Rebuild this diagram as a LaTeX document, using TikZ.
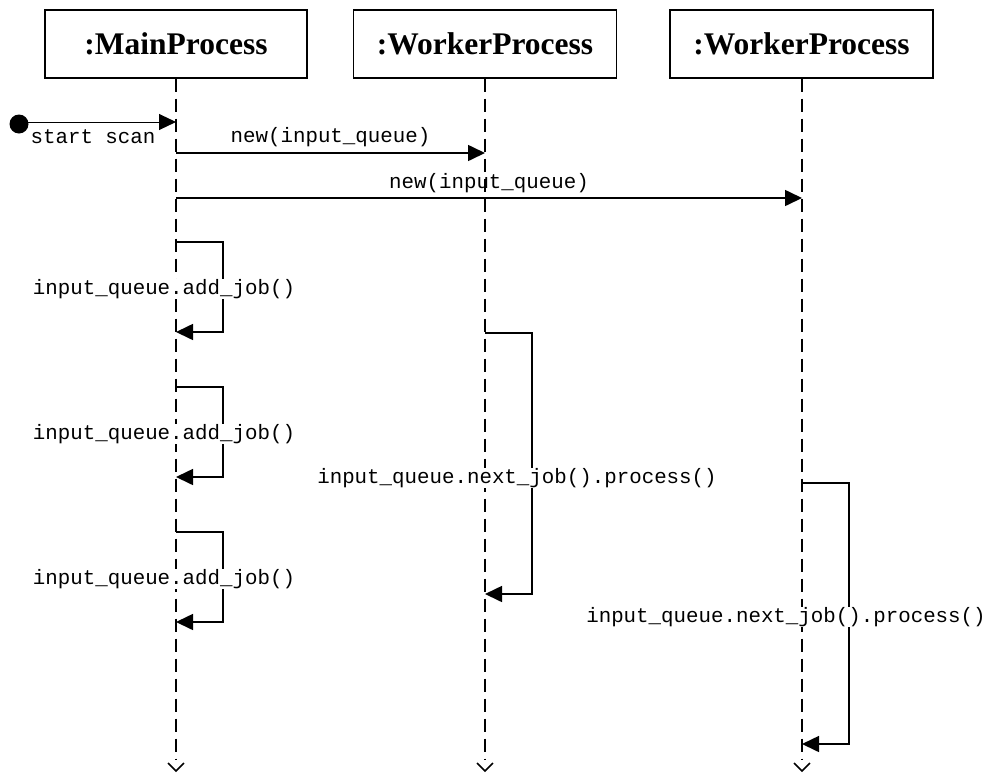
\documentclass[tikz,border=0pt]{standalone}
\usepackage{fontspec}
\setmainfont{Liberation Serif}
\newfontfamily\codefont{Liberation Mono}
\usetikzlibrary{arrows.meta}

\begin{document}
\begin{tikzpicture}[x=1pt,y=-1pt,
  objbox/.style={draw,line width=1.3pt,minimum width=#1,minimum height=68pt,inner sep=0pt,
    font=\fontsize{31.5}{36}\selectfont\bfseries},
  lifeline/.style={line width=1.6pt,dash pattern=on 13pt off 7pt},
  lifeend/.style={line width=1.6pt},
  msg/.style={line width=1.6pt,-{Triangle[length=17pt,width=16pt]}},
  lbl/.style={fill=white,inner sep=0.5pt,font=\codefont\fontsize{20.8}{24}\selectfont}]
\useasboundingbox (0,0) rectangle (987,774);

% objects
\node[objbox=262pt] (main) at (176,44) {:MainProcess};
\node[objbox=263pt] (w1)   at (485,44) {:WorkerProcess};
\node[objbox=263pt] (w2)   at (801.5,44) {:WorkerProcess};

% lifelines
\coordinate (mEnd) at (176,771);
\coordinate (aEnd) at (485,771);
\coordinate (bEnd) at (802,771);
\draw[lifeline] (main.south) -- (176,760);
\draw[lifeline] (w1.south) -- (485,760);
\draw[lifeline] (w2.south -| bEnd) -- (802,760);
\foreach \e in {mEnd,aEnd,bEnd}
  \draw[lifeend] ([shift={(-8,-8)}]\e) -- (\e) -- ([shift={(8,-8)}]\e);

% start of the scan
\fill (19,124) circle (9.5pt) coordinate (start);
\coordinate (mStart) at (176,122);
\draw[line width=1pt,-{Triangle[length=17pt,width=16pt]}] (start |- mStart) -- (mStart);
\node[lbl,fill=none] (lstart) at (93,137) {start scan};

% creating the workers
\coordinate (m1) at (176,153);
\coordinate (a1) at (485,153);
\draw[msg] (m1) -- (a1);
\node[lbl,fill=none] (lnew1) at (330.5,137) {new(input\_queue)};
\coordinate (m2) at (176,198);
\coordinate (b1) at (802,198);
\draw[msg] (m2) -- (b1);
\node[lbl,fill=none] (lnew2) at (489,183) {new(input\_queue)};

% jobs added by the main process
\foreach \t/\n in {242/1,387/2,532/3}{
  \coordinate (ja\n) at (176,\t);
  \coordinate (jb\n) at (176,\t+90);
  \draw[msg] (ja\n) -- (223,\t) -- (223,\t+90) -- (jb\n);
  \node[lbl] (ladd\n) at (164,\t+47) {input\_queue.add\_job()};
}

% workers processing jobs
\coordinate (pa1) at (485,333);
\coordinate (pa2) at (485,594);
\draw[msg] (pa1) -- (532,333) -- (532,594) -- (pa2);
\node[lbl] (lproc1) at (517,478) {input\_queue.next\_job().process()};

\coordinate (pb1) at (802,483);
\coordinate (pb2) at (802,744);
\draw[msg] (pb1) -- (849,483) -- (849,744) -- (pb2);
\node[lbl] (lproc2) at (786,617) {input\_queue.next\_job().process()};
\end{tikzpicture}
\end{document}
